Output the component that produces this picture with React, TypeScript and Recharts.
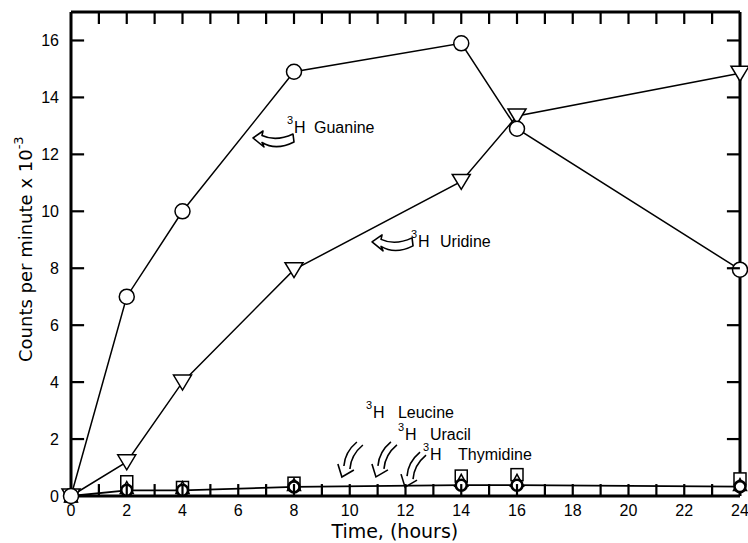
import React from 'react';
import { ComposedChart, Line, XAxis, YAxis, ReferenceDot, ReferenceLine } from 'recharts';

// sampling times (hours)
const times = [0, 2, 4, 8, 14, 16, 24];

// counts per minute x 10^-3
const guanine = [0, 7, 10, 14.9, 15.9, 12.9, 7.95];
const uridine = [0, 1.2, 4, 7.95, 11.05, 13.35, 14.85];
const leucine = [0, 0.5, 0.3, 0.45, 0.7, 0.75, 0.6];
const uracil = [0, 0.3, 0.3, 0.4, 0.55, 0.55, 0.4];
const thymidine = [0, 0.2, 0.2, 0.32, 0.38, 0.38, 0.33];

const hourTicks = [0, 1, 2, 3, 4, 5, 6, 7, 8, 9, 10, 11, 12, 13, 14, 15, 16, 17, 18, 19, 20, 21, 22, 23, 24];
const innerHours = [1, 2, 3, 4, 5, 6, 7, 8, 9, 10, 11, 12, 13, 14, 15, 16, 17, 18, 19, 20, 21, 22, 23];
const countTicks = [0, 2, 4, 6, 8, 10, 12, 14, 16];
const innerCounts = [2, 4, 6, 8, 10, 12, 14, 16];

const rows = times.map((t, i) => ({
  time: t,
  guanine: guanine[i],
  uridine: uridine[i],
  leucine: leucine[i],
  uracil: uracil[i],
  thymidine: thymidine[i],
}));

const INK = '#000';
const tickFont = "'Liberation Sans Narrow', 'Liberation Sans', sans-serif";
const labelFont = "'Liberation Sans', Arial, sans-serif";
const titleFont = "'DejaVu Sans', sans-serif";

const frameLine = { stroke: INK, strokeWidth: 3 };

const BottomLabel = (props: any) => {
  const { x, y, payload } = props;
  const v = payload.value;
  if (v % 2 !== 0) return <g />;
  return (
    <text x={x} y={y + 20} textAnchor="middle" fontSize={16} fontFamily={tickFont} fill={INK}>
      {v}
    </text>
  );
};

const LeftLabel = (props: any) => {
  const { x, y, payload } = props;
  return (
    <text x={x - 12} y={y + 6} textAnchor="end" fontSize={16} fontFamily={tickFont} fill={INK}>
      {payload.value}
    </text>
  );
};

// ---- markers ----
const OpenCircle = (props: any) => {
  const { cx, cy, index } = props;
  return <circle key={`gc${index}`} cx={cx} cy={cy} r={7.5} fill="#fff" stroke={INK} strokeWidth={1.5} />;
};

const DownTriangle = (props: any) => {
  const { cx, cy, index } = props;
  const pts = `${cx - 9},${cy - 7} ${cx + 9},${cy - 7} ${cx},${cy + 8}`;
  return <polygon key={`ut${index}`} points={pts} fill="#fff" stroke={INK} strokeWidth={1.5} />;
};

const Square = (props: any) => {
  const { cx, cy, index } = props;
  return <rect key={`ls${index}`} x={cx - 6} y={cy - 6} width={12} height={12} fill="#fff" stroke={INK} strokeWidth={1.5} />;
};

const UpTriangle = (props: any) => {
  const { cx, cy, index } = props;
  const pts = `${cx - 6.5},${cy + 6} ${cx + 6.5},${cy + 6} ${cx},${cy - 6}`;
  return <polygon key={`ct${index}`} points={pts} fill="#fff" stroke={INK} strokeWidth={1.5} />;
};

const BoldCircle = (props: any) => {
  const { cx, cy, index } = props;
  return <circle key={`tc${index}`} cx={cx} cy={cy} r={5.5} fill="#fff" stroke={INK} strokeWidth={2.6} />;
};

// ---- annotation pieces ----
const HollowArrow = ({ x, y }: { x: number; y: number }) => (
  <path
    transform={`translate(${x},${y})`}
    d="M0,0 L10,-7 L9,-2.5 Q23,4 40,-4 L41,4 Q23,13 9,4.5 L11,9 Z"
    fill="#fff"
    stroke={INK}
    strokeWidth={1.6}
    strokeLinejoin="round"
  />
);

const DoubleArrow = ({ x, y }: { x: number; y: number }) => (
  <g transform={`translate(${x},${y})`} fill="none" stroke={INK} strokeWidth={1.6}>
    <path d="M15,-35 Q3,-25 2,-11" />
    <path d="M21,-32 Q9,-22 8,-8" />
    <path d="M-4,-13 L0,0 L12,-7" strokeLinejoin="miter" />
  </g>
);

const Tag = ({ cx, cy, name, gap }: { cx: number; cy: number; name: string; gap: number }) => (
  <g fontFamily={labelFont} fill={INK}>
    <text x={cx - 7} y={cy - 9} fontSize={11}>3</text>
    <text x={cx} y={cy} fontSize={16}>H</text>
    <text x={cx + gap} y={cy} fontSize={16}>{name}</text>
  </g>
);

const XTitle = (props: any) => {
  const vb = props.viewBox;
  return (
    <text x={vb.x + vb.width * 0.484} y={vb.y + 42} textAnchor="middle" fontSize={19} fontFamily={titleFont} fill={INK}>
      Time, (hours)
    </text>
  );
};

const YTitle = () => (
  <text transform="translate(32,362) rotate(-90)" fontSize={18} fontFamily={titleFont} fill={INK}>
    Counts per minute x 10
    <tspan fontSize={13} dy={-9}>-3</tspan>
  </text>
);

// short inward frame tick: anchored just inside the plot, drawn out to the frame (dx, dy in px)
const frameTick = (key: string, x: number, y: number, dx: number, dy: number) => (
  <ReferenceDot
    key={key}
    xAxisId="b"
    yAxisId="l"
    x={x}
    y={y}
    r={0}
    ifOverflow="visible"
    shape={(p: any) => (
      <line x1={p.cx} y1={p.cy} x2={p.cx + dx} y2={p.cy + dy} stroke={INK} strokeWidth={2.2} />
    )}
  />
);

export default function App() {
  return (
    <div style={{ position: 'absolute', left: 0, top: 0, background: '#fff' }}>
      <ComposedChart width={748} height={543} data={rows} margin={{ top: 12, right: 8, bottom: 0, left: 0 }}>
        <XAxis
          xAxisId="b"
          type="number"
          dataKey="time"
          domain={[0, 24]}
          ticks={hourTicks}
          interval={0}
          height={47}
          tickSize={0}
          tickMargin={0}
          tickLine={false}
          axisLine={frameLine}
          tick={BottomLabel}
          label={XTitle}
        />
        <YAxis
          yAxisId="l"
          type="number"
          domain={[0, 17]}
          ticks={countTicks}
          interval={0}
          width={71}
          tickSize={0}
          tickMargin={0}
          tickLine={false}
          axisLine={frameLine}
          tick={LeftLabel}
          label={YTitle}
        />

        {/* top and right edges of the frame */}
        <ReferenceLine xAxisId="b" yAxisId="l" y={17} stroke={INK} strokeWidth={3} ifOverflow="visible" />
        <ReferenceLine xAxisId="b" yAxisId="l" x={24} stroke={INK} strokeWidth={3} ifOverflow="visible" />

        <Line xAxisId="b" yAxisId="l" dataKey="leucine" stroke="none" dot={Square} activeDot={false} isAnimationActive={false} />
        <Line xAxisId="b" yAxisId="l" dataKey="uracil" stroke="none" dot={UpTriangle} activeDot={false} isAnimationActive={false} />
        <Line xAxisId="b" yAxisId="l" dataKey="thymidine" stroke={INK} strokeWidth={1.8} dot={BoldCircle} activeDot={false} isAnimationActive={false} />
        <Line xAxisId="b" yAxisId="l" dataKey="uridine" stroke={INK} strokeWidth={1.5} dot={DownTriangle} activeDot={false} isAnimationActive={false} />
        <Line xAxisId="b" yAxisId="l" dataKey="guanine" stroke={INK} strokeWidth={1.5} dot={OpenCircle} activeDot={false} isAnimationActive={false} />

        {/* inward frame ticks */}
        {innerHours.map((h) => frameTick(`bt${h}`, h, 0.42, 0, 12))}
        {innerHours.map((h) => frameTick(`tt${h}`, h, 17, 0, 12))}
        {innerCounts.map((v) => frameTick(`lt${v}`, 0.47, v, -13, 0))}
        {innerCounts.map((v) => frameTick(`rt${v}`, 23.53, v, 13, 0))}

        <ReferenceDot
          xAxisId="b" yAxisId="l" x={8} y={12.75} r={0}
          shape={(p: any) => (
            <g>
              <HollowArrow x={p.cx - 41} y={p.cy + 5} />
              <Tag cx={p.cx} cy={p.cy} name="Guanine" gap={20} />
            </g>
          )}
        />
        <ReferenceDot
          xAxisId="b" yAxisId="l" x={12.45} y={8.75} r={0}
          shape={(p: any) => (
            <g>
              <HollowArrow x={p.cx - 46} y={p.cy - 5} />
              <Tag cx={p.cx} cy={p.cy} name="Uridine" gap={22} />
            </g>
          )}
        />
        <ReferenceDot
          xAxisId="b" yAxisId="l" x={10.83} y={2.74} r={0}
          shape={(p: any) => (
            <g>
              <DoubleArrow x={p.cx - 31} y={p.cy + 59} />
              <Tag cx={p.cx} cy={p.cy} name="Leucine" gap={25} />
            </g>
          )}
        />
        <ReferenceDot
          xAxisId="b" yAxisId="l" x={11.98} y={1.97} r={0}
          shape={(p: any) => (
            <g>
              <DoubleArrow x={p.cx - 29} y={p.cy + 37} />
              <Tag cx={p.cx} cy={p.cy} name="Uracil" gap={25} />
            </g>
          )}
        />
        <ReferenceDot
          xAxisId="b" yAxisId="l" x={12.88} y={1.26} r={0}
          shape={(p: any) => (
            <g>
              <DoubleArrow x={p.cx - 25} y={p.cy + 27} />
              <Tag cx={p.cx} cy={p.cy} name="Thymidine" gap={28} />
            </g>
          )}
        />
      </ComposedChart>
    </div>
  );
}
